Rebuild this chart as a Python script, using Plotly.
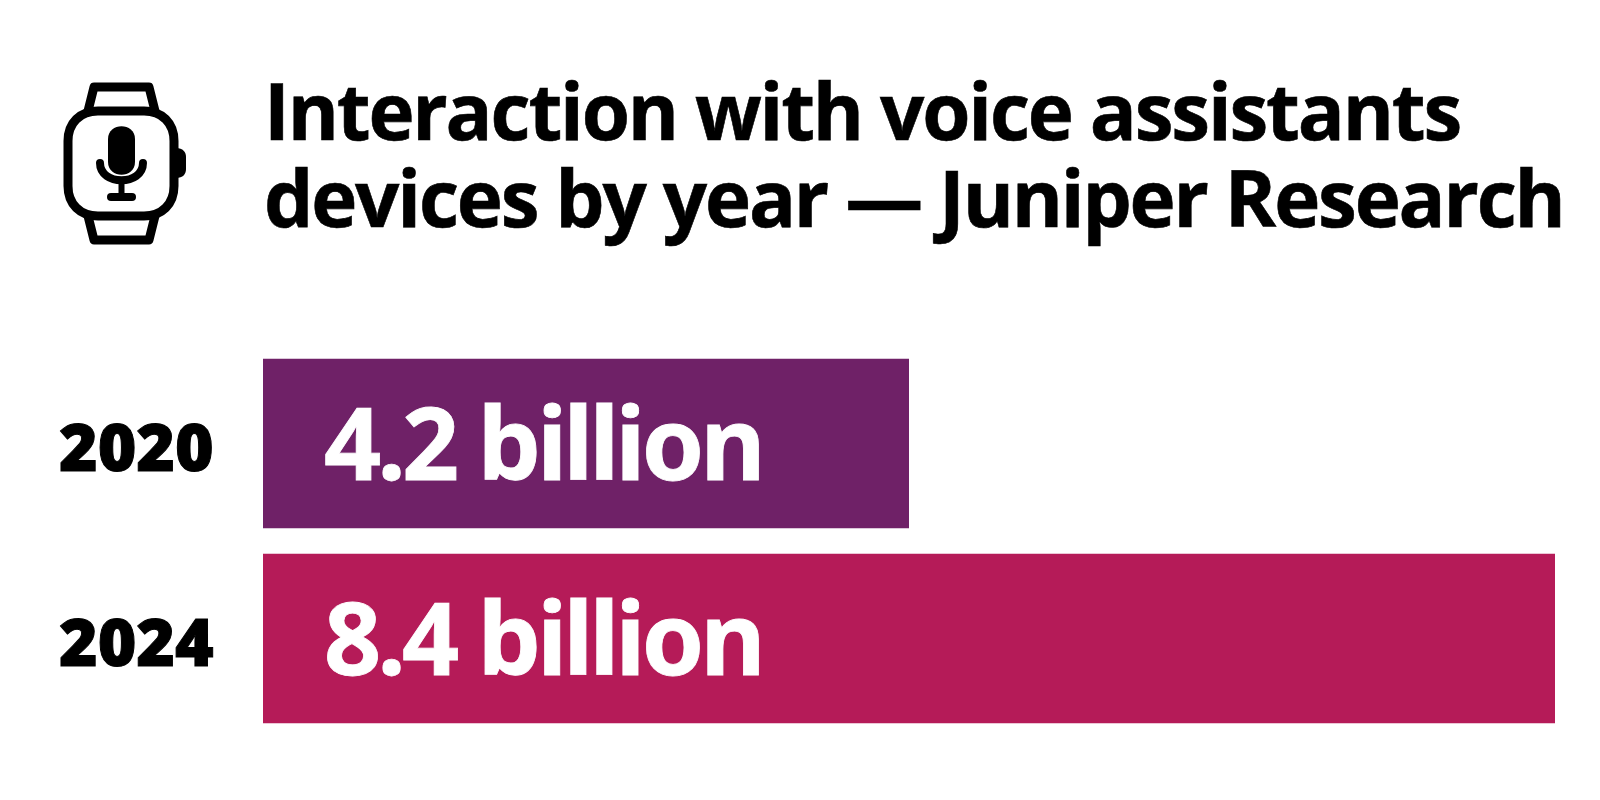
import plotly.graph_objects as go

years = ["2020", "2024"]
values = [4.2, 8.4]
labels = ["4.2 billion", "8.4 billion"]
colors = ["#6f2167", "#b51b58"]
title_lines = ["Interaction with voice assistants", "devices by year — Juniper Research"]
FONT = "Noto Sans"
TITLE_FONT = "Open Sans"

def px(x):
    return x / 1600

def py(y):
    return 1 - y / 800

def path(d):
    out, isx = [], True
    for t in d.split():
        if t.isalpha():
            out.append(t)
            isx = True
        else:
            out.append(f"{px(float(t)):.5f}" if isx else f"{py(float(t)):.5f}")
            isx = not isx
    return " ".join(out)

fig = go.Figure()
fig.add_trace(go.Bar(
    y=[0, 1], x=values, orientation="h", marker=dict(color=colors, line_width=0),
    width=0.87, hoverinfo="skip",
))
fig.update_layout(
    width=1600, height=800, autosize=False, showlegend=False,
    paper_bgcolor="white", plot_bgcolor="white",
    margin=dict(l=0, r=0, t=0, b=0),
    xaxis=dict(domain=[263 / 1600, 1555 / 1600], range=[0, 8.4], visible=False, fixedrange=True),
    yaxis=dict(domain=[py(736), py(346)], range=[1.5, -0.5], visible=False, fixedrange=True),
)
for i, t in enumerate(title_lines):
    fig.add_annotation(xref="paper", yref="paper", x=px(262), y=py(110 + 87 * i), xanchor="left", yanchor="middle",
                       text=t, showarrow=False, font=dict(family=TITLE_FONT, size=78, color="black", weight=700))
for i, yr in enumerate(years):
    fig.add_annotation(xref="paper", yref="y", x=px(216), y=i, yshift=-1, xanchor="right", yanchor="middle",
                       text=yr, showarrow=False, font=dict(family=FONT, size=66, color="black", weight=900))
    fig.add_annotation(xref="x", yref="y", x=0, y=i, xanchor="left", yanchor="middle", xshift=59, yshift=3,
                       text=labels[i], showarrow=False, font=dict(family=FONT, size=100, color="white", weight=700))

L = dict(color="black", width=9)
for d in [
    "M 98 111 L 144 111 C 162 111 174 123 174 141 L 174 186 C 174 204 162 216 144 216 "
    "L 98 216 C 80 216 68 204 68 186 L 68 141 C 68 123 80 111 98 111 Z",
    "M 88 111 L 94 87 L 149 87 L 155 111",
    "M 88 216 L 94 240 L 149 240 L 155 216",
]:
    fig.add_shape(type="path", xref="paper", yref="paper", line=L, path=path(d))
fig.add_shape(type="path", xref="paper", yref="paper", line_width=0, fillcolor="black",
              path=path("M 108 139 C 108 122 135 122 135 139 L 135 162 C 135 179 108 179 108 162 Z"))
fig.add_shape(type="path", xref="paper", yref="paper", line=dict(color="black", width=8),
              path=path("M 100 163 C 100 186 143 186 143 163"))
fig.add_shape(type="line", xref="paper", yref="paper", line=dict(color="black", width=6),
              x0=px(121.5), x1=px(121.5), y0=py(180), y1=py(197))
fig.add_shape(type="line", xref="paper", yref="paper", line=dict(color="black", width=8),
              x0=px(111), x1=px(132), y0=py(197), y1=py(197))
fig.add_shape(type="path", xref="paper", yref="paper", line_width=0, fillcolor="black",
              path=path("M 176 148 C 183 148 186 152 186 157 L 186 169 C 186 174 183 178 176 178 Z"))

post = """
document.body.style.margin = '0';
document.querySelectorAll('.shapelayer path').forEach(function (p) {
  p.style.strokeLinecap = 'round';
  p.style.strokeLinejoin = 'round';
});
document.querySelectorAll('.annotation-text').forEach(function (t) {
  var size = parseFloat(t.style.fontSize);
  var w0 = t.getBBox().width;
  var tight = size > 90 ? -0.037 : (size > 70 ? -0.028 : 0);
  t.style.letterSpacing = tight + 'em';
  if (size < 70) { t.style.stroke = 'black'; t.style.strokeWidth = '1px'; }
  if (size > 70 && size < 90) { t.style.stroke = 'black'; t.style.strokeWidth = '0.6px'; }
  if (size > 90) { t.style.stroke = 'white'; t.style.strokeWidth = '0.8px'; }
  var d = w0 - t.getBBox().width;
  t.setAttribute('x', parseFloat(t.getAttribute('x')) - d / 2);
});
"""
fig.write_html("out.html", post_script=post, config={"displayModeBar": False})
